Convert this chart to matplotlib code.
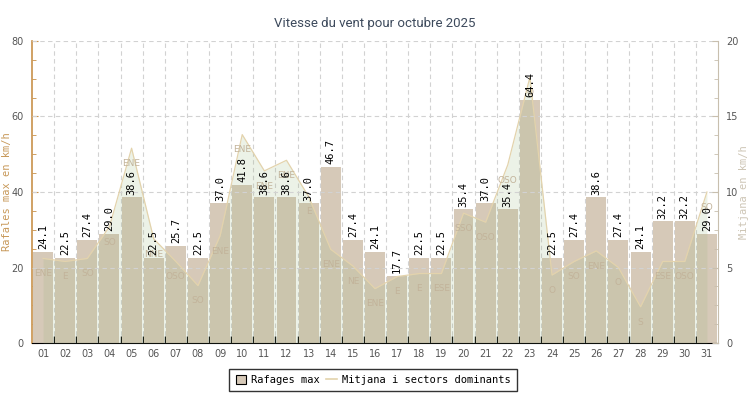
import numpy as np
import matplotlib
matplotlib.use('Agg')
import matplotlib.pyplot as plt
from matplotlib.patches import Patch
from matplotlib.lines import Line2D
from matplotlib.ticker import MultipleLocator, FixedLocator, NullFormatter

# data
days = ['%02d' % d for d in range(1, 32)]
gusts = [24.1, 22.5, 27.4, 29.0, 38.6, 22.5, 25.7, 22.5, 37.0, 41.8,
         38.6, 38.6, 37.0, 46.7, 27.4, 24.1, 17.7, 22.5, 22.5, 35.4,
         37.0, 35.4, 64.4, 22.5, 27.4, 38.6, 27.4, 24.1, 32.2, 32.2, 29.0]
mean_wind = [5.6, 5.4, 5.6, 7.7, 12.9, 6.9, 5.4, 3.8, 7.1, 13.8,
             11.4, 12.1, 9.7, 6.2, 5.1, 3.6, 4.4, 4.6, 4.6, 8.6,
             8.0, 11.8, 17.6, 4.5, 5.4, 6.1, 5.0, 2.4, 5.4, 5.4, 10.0]
sectors = ['ENE', 'E', 'SO', 'SO', 'ENE', 'NNE', 'OSO', 'SO', 'ENE', 'ENE',
           'ENE', 'ENE', 'E', 'ENE', 'NE', 'ENE', 'E', 'E', 'ESE', 'SSO',
           'OSO', 'OSO', 'O', 'O', 'SO', 'ENE', 'O', 'S', 'ESE', 'OSO', 'SO']

bar_col = '#d6c9b8'
area_col = '#9bb77f'
line_col = '#e3d3ac'
sector_col = '#c2b39a'
grid_col = '#d2d2d2'
tick_col = '#555555'

x = np.arange(len(days))

fig = plt.figure(figsize=(7.5, 4), dpi=100)
ax1 = fig.add_axes([32/750, 57/400, 686/750, 302/400])
ax2 = ax1.twinx()

ax1.bar(x, gusts, width=0.9, color=bar_col, zorder=2)
ax1.set_xlim(-0.5, len(days) - 0.5)
ax1.set_ylim(0, 80)
ax2.set_ylim(0, 20)

ax2.fill_between(x, mean_wind, 0, color=area_col, alpha=0.18, linewidth=0, zorder=1)
ax2.plot(x, mean_wind, color=line_col, lw=0.9, zorder=3)

# x ticks: marks at bar boundaries, labels at centres
ax1.xaxis.set_major_locator(FixedLocator(np.arange(0.5, len(days) - 1, 1)))
ax1.xaxis.set_major_formatter(NullFormatter())
ax1.xaxis.set_minor_locator(FixedLocator(x))
ax1.set_xticklabels(days, minor=True)
ax1.tick_params(axis='x', which='major', direction='in', length=5, color='black', width=1)
ax1.tick_params(axis='x', which='minor', length=0, pad=4, labelsize=7, labelcolor=tick_col)

# vertical grid behind bars, horizontal grid on top
ax1.set_axisbelow(True)
ax1.grid(True, axis='x', which='major', color=grid_col, ls=(0, (4, 3)), lw=0.8)
ax2.yaxis.set_major_locator(MultipleLocator(5))
ax2.yaxis.set_minor_locator(MultipleLocator(1.25))
ax2.grid(True, axis='y', which='major', color=grid_col, ls=(0, (4, 3)), lw=0.8)
ax2.set_axisbelow(False)

ax1.yaxis.set_major_locator(MultipleLocator(20))
ax1.yaxis.set_minor_locator(MultipleLocator(5))
ax1.tick_params(axis='y', which='major', direction='in', length=4, color='#c8914a',
                labelsize=7, labelcolor=tick_col, pad=6)
ax1.tick_params(axis='y', which='minor', direction='in', length=3, color='#c8914a')
ax2.tick_params(axis='y', which='major', direction='in', length=4, color='#c8bfae',
                labelsize=7, labelcolor=tick_col, pad=6)
ax2.tick_params(axis='y', which='minor', direction='in', length=3, color='#c8bfae')

for ax in (ax1, ax2):
    ax.spines['top'].set_visible(False)
ax1.spines['left'].set_color('#c8914a')
ax1.spines['left'].set_linewidth(1.2)
ax1.spines['right'].set_visible(False)
ax2.spines['left'].set_visible(False)
ax2.spines['bottom'].set_visible(False)
ax2.spines['right'].set_color('#c8bfae')
ax1.spines['bottom'].set_color('black')

ax1.set_ylabel('Rafales max en km/h', family='DejaVu Sans Mono', fontsize=7.5,
               color='#c8995a')
ax1.yaxis.set_label_coords(-20/686, 0.5)
ax2.set_ylabel('Mitjana en km/h', family='DejaVu Sans Mono', fontsize=7.5,
               color='#cdc5b5', rotation=90)
ax2.yaxis.set_label_coords(1 + 21/686, 0.5)

# sector labels below each mean point
for xi, v, s in zip(x, mean_wind, sectors):
    ax2.annotate(s, (xi, v), xytext=(0, -11), textcoords='offset points',
                 ha='center', va='center', fontsize=6.5, color=sector_col, zorder=4)

# bar value labels, drawn on top
for xi, g in zip(x, gusts):
    ax2.annotate('%.1f' % g, (xi, g / 4), xytext=(0, 2), textcoords='offset points',
                 ha='center', va='bottom', rotation=90, family='DejaVu Sans Mono',
                 fontsize=7.5, color='black', zorder=5)

fig.text(375/750, 1 - 24/400, 'Vitesse du vent pour octubre 2025', ha='center', va='center',
         fontsize=9.5, color='#3d4a5c', family='Roboto')

handles = [Patch(facecolor=bar_col, edgecolor='black', linewidth=0.8),
           Line2D([0], [0], color=line_col, lw=1.2)]
leg = fig.legend(handles, ['Rafages max', 'Mitjana i sectors dominants'], loc='center',
                 bbox_to_anchor=(373/750, 1 - 380/400), ncol=2, frameon=True, fancybox=False,
                 prop={'family': 'DejaVu Sans Mono', 'size': 7.5}, handlelength=1.0,
                 handleheight=1.0, columnspacing=0.6, handletextpad=0.5, borderpad=0.6)
leg.get_frame().set_edgecolor('black')
leg.get_frame().set_linewidth(1.0)

fig.savefig('out.png', dpi=100)
